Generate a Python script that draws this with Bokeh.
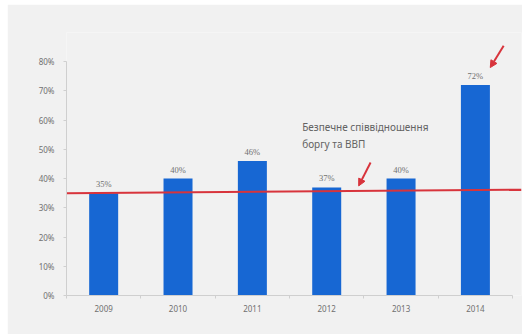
from bokeh.plotting import figure
from bokeh.models import Range1d, FixedTicker, ColumnDataSource, Arrow, NormalHead, Label
from bokeh.embed import file_html
from bokeh.resources import INLINE

years = ["2009", "2010", "2011", "2012", "2013", "2014"]
debt_ratio = [0.35, 0.40, 0.46, 0.37, 0.40, 0.72]
value_labels = ["35%", "40%", "46%", "37%", "40%", "72%"]
y_ticks = [0.0, 0.1, 0.2, 0.3, 0.4, 0.5, 0.6, 0.7, 0.8]
y_tick_labels = ["0%", "10%", "20%", "30%", "40%", "50%", "60%", "70%", "80%"]
safe_line_x = [0.0, 6.12]
safe_line_y = [0.35, 0.362]
note_lines = ["Безпечне співвідношення", "боргу та ВВП"]
# arrows: (x_start, y_start, x_end, y_end) in data units
arrow1 = (4.09, 0.455, 3.93, 0.375)
arrow2 = (5.88, 0.855, 5.70, 0.78)

BG = "#f1f1f1"
xs = [i + 0.5 for i in range(len(years))]

p = figure(width=515, height=330, output_backend="svg", toolbar_location=None,
           x_range=Range1d(0, 6.12), y_range=Range1d(0, 0.9))
p.margin = (4, 6, 2, 7)
p.min_border_left = 59
p.min_border_right = 1
p.min_border_top = 28
p.min_border_bottom = 39
p.background_fill_color = BG
p.border_fill_color = BG
p.outline_line_color = None
p.grid.visible = False

src = ColumnDataSource(dict(x=xs, top=debt_ratio, lab=value_labels))
p.vbar(x="x", top="top", width=0.39, bottom=0, source=src,
       fill_color="#1767d3", line_color=None)
p.text(x="x", y="top", text="lab", source=src, text_align="center",
       text_baseline="bottom", y_offset=-4, text_font_size="8.5px",
       text_color="#707070", text_font="Noto Sans")

p.line(safe_line_x, safe_line_y, line_color="#d8343c", line_width=2)

# axes
p.yaxis.bounds = (0, 0.8)
p.yaxis.ticker = FixedTicker(ticks=y_ticks)
p.yaxis.major_label_overrides = {t: l for t, l in zip(y_ticks, y_tick_labels)}
p.yaxis.major_tick_in = 0
p.yaxis.major_tick_out = 3
p.yaxis.minor_tick_out = 0
p.yaxis.minor_tick_in = 0
p.yaxis.axis_line_color = "#cfcfcf"
p.yaxis.major_tick_line_color = "#cfcfcf"
p.yaxis.major_label_text_font_size = "8px"
p.yaxis.major_label_text_color = "#707070"
p.yaxis.major_label_standoff = 9

p.xaxis.bounds = (0, 6)
p.xaxis.ticker = FixedTicker(ticks=xs, minor_ticks=list(range(len(years) + 1)))
p.xaxis.major_label_overrides = {x: y for x, y in zip(xs, years)}
p.xaxis.major_tick_in = 0
p.xaxis.major_tick_out = 0
p.xaxis.minor_tick_in = 0
p.xaxis.minor_tick_out = 3
p.xaxis.axis_line_color = "#cfcfcf"
p.xaxis.minor_tick_line_color = "#cfcfcf"
p.xaxis.major_label_text_font_size = "8px"
p.xaxis.major_label_text_color = "#707070"
p.xaxis.major_label_standoff = 6

for ax in (p.xaxis[0], p.yaxis[0]):
    ax.major_label_text_font = "Noto Sans"

# annotation text
p.add_layout(Label(x=3.17, y=0.575, text=note_lines[0], text_font_size="10px",
                   text_color="#636363", text_font="Noto Sans", text_baseline="middle"))
p.add_layout(Label(x=3.17, y=0.52, text=note_lines[1], text_font_size="10px",
                   text_color="#636363", text_font="Noto Sans", text_baseline="middle"))

for (x0, y0, x1, y1) in (arrow1, arrow2):
    p.add_layout(Arrow(x_start=x0, y_start=y0, x_end=x1, y_end=y1,
                       line_color="#d8343c", line_width=2,
                       end=NormalHead(size=7, fill_color="#d8343c", line_color="#d8343c")))

open("out.html", "w").write(file_html(p, INLINE))
